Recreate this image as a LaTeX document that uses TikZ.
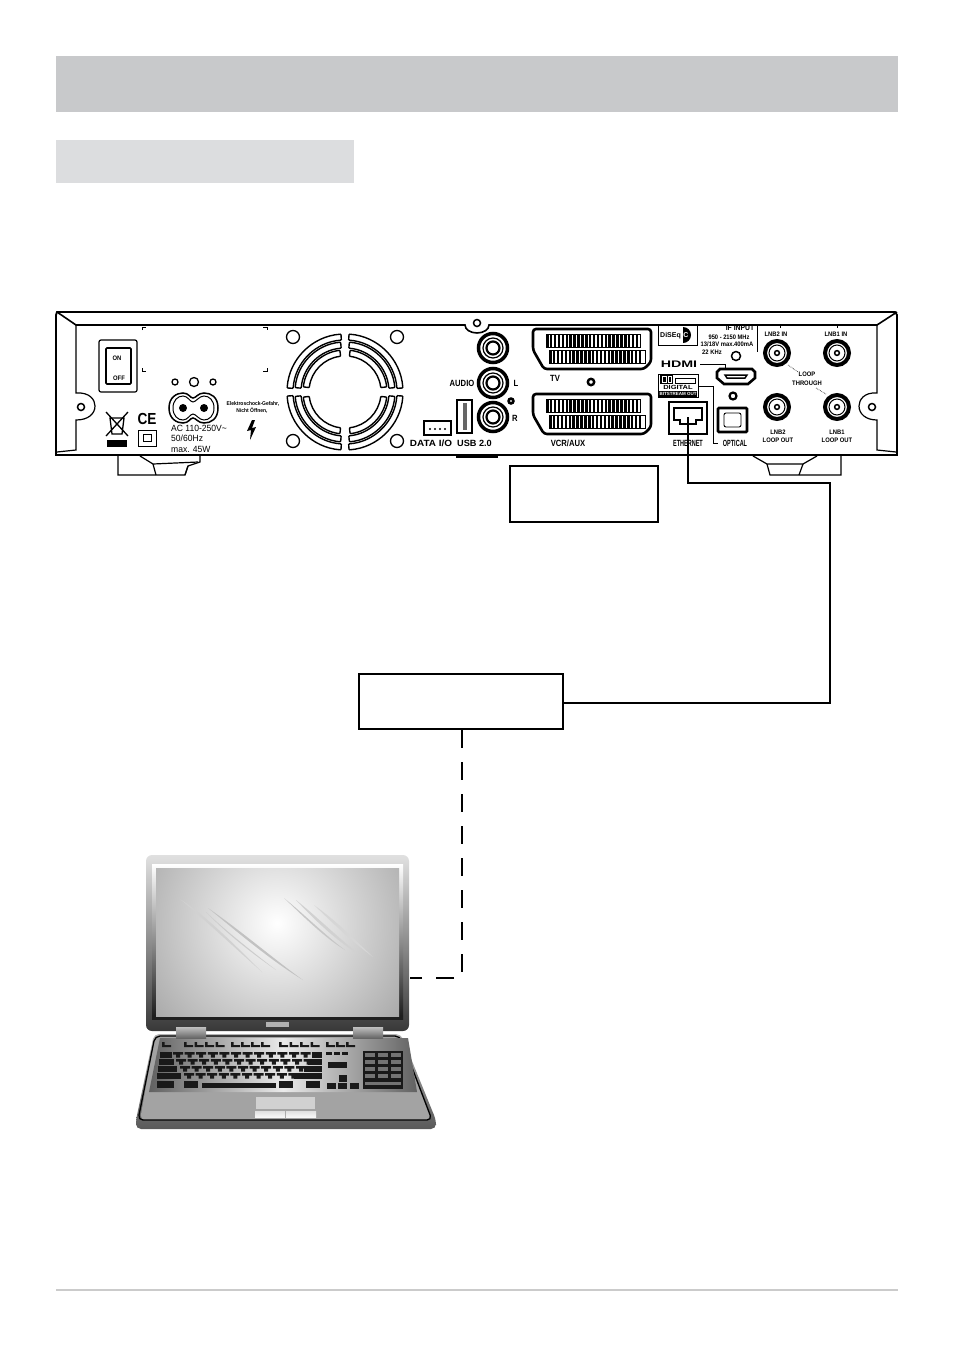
\documentclass[tikz,border=0pt]{standalone}
\usepackage{fontspec}
\setmainfont{Liberation Sans}
\usepackage{xcolor}
\definecolor{headgray}{HTML}{C8C9CB}
\definecolor{subgray}{HTML}{DCDDDF}
\definecolor{rulegray}{HTML}{CBCBCB}
\tikzset{
    panel/.style={line width=1.2pt, draw=black},
    hole/.style={line width=1.1pt, draw=black, fill=white},
    cable/.style={line width=1.5pt, draw=black},
    netlink/.style={line width=1.6pt, draw=black, dash pattern=on 18pt off 14pt},
    labelbox/.style={draw=black, line width=1.6pt, fill=white, inner sep=0pt, anchor=north west},
    tag/.style={font=\bfseries\fontsize{9}{9}\selectfont, inner sep=0pt, xscale=0.85},
    thintag/.style={font=\fontsize{9}{9}\selectfont, inner sep=0pt, xscale=0.95},
    tinytag/.style={font=\bfseries\fontsize{6.5}{6.5}\selectfont, inner sep=0pt, xscale=0.9},
    keyblack/.style={fill=black!90, draw=none}
}
\begin{document}
\begin{tikzpicture}[x=1pt, y=-1pt]
    \useasboundingbox (0,0) rectangle (954,1347);

    % header bars
    \fill[headgray] (56,56) rectangle (898,112);
    \fill[subgray] (56,140) rectangle (354,183);
    \draw[rulegray, line width=1.5pt] (56,1290) -- (898,1290);

    % receiver body
    \draw[panel, line width=1.8pt] (57,312) -- (895,312) -- (897,315) -- (897,455) -- (56,455) -- (56,315) -- cycle;
    \draw[line width=2.2pt] (56,455) -- (897,455);
    \draw[panel, line width=1.6pt] (57,312) -- (76,325) -- (465,325) arc (180:0:12 and 8) -- (877,325) -- (897,312);
    \draw[panel] (76,325) -- (76,393) .. controls (90,392) and (95,400) .. (95,406) .. controls (95,414) and (88,420) .. (76,420) -- (76,450) -- (57,452);
    \draw[panel] (877,325) -- (877,393) .. controls (864,392) and (859,400) .. (859,406) .. controls (859,414) and (866,420) .. (877,420) -- (877,450) -- (896,452);
    \foreach \sx/\sy in {81/407, 872/407, 477/323}
        \draw[line width=1.5pt, fill=white] (\sx,\sy) circle (3.5);

    % feet
    \draw[panel] (118,456) -- (118,475) -- (185,475) -- (188,466) -- (200,462) -- (200,456);
    \draw[panel] (140,456) -- (153,464) -- (198,462);
    \draw[panel] (153,464) -- (156,475);
    \draw[panel] (188,466) -- (185,475);
    \draw[panel] (753,456) -- (767,464) -- (803,464) -- (817,456);
    \draw[panel] (767,464) -- (770,475) -- (841,475) -- (841,456);
    \draw[panel] (803,464) -- (799,475);
    \draw[line width=2.4pt] (456,457) -- (498,457);

    % power switch
    \draw[panel, rounded corners=2pt] (99,340) rectangle (137,392);
    \draw[panel, line width=1.6pt, rounded corners=1pt] (106,348) rectangle (131,384);
    \node[tinytag] (lblon) at (117,358) {ON};
    \node[tinytag] (lbloff) at (119,378) {OFF};

    % label frame corners
    \draw[line width=0.7pt] (142,330) -- (142,327) -- (146,327);
    \draw[line width=0.7pt] (263,327) -- (267,327) -- (267,330);
    \draw[line width=0.7pt] (142,368) -- (142,371) -- (146,371);
    \draw[line width=0.7pt] (263,371) -- (267,371) -- (267,368);

    % disposal and CE marks
    \draw[line width=1.3pt] (110,418) -- (112,434) -- (122,434) -- (124,418) -- cycle;
    \draw[line width=1.3pt] (106,412) -- (128,436);
    \draw[line width=1.3pt] (128,412) -- (106,436);
    \fill (107,440) rectangle (127,447);
    \node[font=\bfseries\fontsize{16}{16}\selectfont, inner sep=0pt, xscale=0.85] (lblce) at (147,419) {CE};
    \draw[line width=0.9pt] (138,430) rectangle (156,446);
    \draw[line width=0.8pt] (143,434) rectangle (151,441);

    % mains socket
    \foreach \cx/\cr in {175/3, 194/4.5, 213/3}
        \draw[line width=1.3pt] (\cx,382) circle (\cr);
    \draw[line width=1.5pt] (169,408) .. controls (169,397) and (177,393) .. (183,393) .. controls (189,393) and (190,398) .. (193,398) .. controls (196,398) and (198,393) .. (204,393) .. controls (211,393) and (218,397) .. (218,408) .. controls (218,419) and (211,423) .. (204,423) .. controls (198,423) and (196,418) .. (193,418) .. controls (190,418) and (189,423) .. (183,423) .. controls (177,423) and (169,419) .. (169,408) -- cycle;
    \draw[line width=1pt] (173,408) .. controls (173,400) and (178,396) .. (183,396) .. controls (188,396) and (190,402) .. (193,402) .. controls (196,402) and (199,396) .. (204,396) .. controls (209,396) and (214,400) .. (214,408) .. controls (214,416) and (209,420) .. (204,420) .. controls (199,420) and (196,414) .. (193,414) .. controls (190,414) and (188,420) .. (183,420) .. controls (178,420) and (173,416) .. (173,408) -- cycle;
    \fill (183,408) circle (4) (204,408) circle (4);
    \node[thintag, anchor=west] (lblac) at (171,428) {AC 110-250V\textasciitilde};
    \node[thintag, anchor=west] (lblhz) at (171,438) {50/60Hz};
    \node[thintag, anchor=west] (lblmax) at (171,449) {max. 45W};

    % shock warning
    \node[tinytag, font=\bfseries\fontsize{5.5}{5.5}\selectfont] (lblshock) at (253,404) {Elektroschock-Gefahr,};
    \node[tinytag, font=\bfseries\fontsize{5.5}{5.5}\selectfont] (lblopen) at (252,411) {Nicht Öffnen,};
    \fill (252,420) -- (247,431) -- (251,430) -- (250,440) -- (256,427) -- (252,428) -- (255,420) -- cycle;

    % fan
    \foreach \fx/\fy in {293/337, 397/337, 293/441, 397/441}
        \draw[line width=1.3pt] (\fx,\fy) circle (6.5);
    \foreach \qa in {0,90,180,270}
        \foreach \ri/\ro/\gap in {36/42/7, 44/50/5, 52/58/4}
            \draw[hole, line width=1.4pt, rounded corners=0.8pt] ({345+\ri*cos(\qa+\gap)},{392+\ri*sin(\qa+\gap)})
                arc ({\qa+\gap}:{\qa+90-\gap}:\ri)
                -- ({345+\ro*cos(\qa+90-\gap)},{392+\ro*sin(\qa+90-\gap)})
                arc ({\qa+90-\gap}:{\qa+\gap}:\ro) -- cycle;

    % data port and usb
    \draw[panel] (424,421) rectangle (451,435);
    \foreach \dx in {430,435,440,445}
        \fill (\dx,429) circle (1.2);
    \node[tag, xscale=1.3] (lbldata) at (431,443) {DATA I/O};
    \draw[panel, line width=2pt] (457,400) rectangle (472,433);
    \fill[black!60] (463,403) rectangle (467,430);
    \node[tag, xscale=1.2] (lblusb) at (474.5,443) {USB 2.0};

    % audio jacks
    \foreach \jy in {348,383,417} {
        \draw[line width=3.5pt] (493,\jy) circle (14.5);
        \draw[line width=1.2pt] (493,\jy) circle (10);
        \draw[line width=2.2pt] (493,\jy) circle (6.5);
    }
    \node[tag] (lblaudio) at (462,383) {AUDIO};
    \node[tag] (lblleft) at (516,383) {L};
    \node[tag] (lblright) at (515,418) {R};
    \draw[line width=2.6pt] (511,401) circle (2.4);

    % scart sockets
    \foreach \oy in {0,65} {
        \begin{scope}[yshift=-\oy pt]
            \draw[line width=2.6pt, rounded corners=3pt] (533,329) -- (651,329) -- (651,362) -- (644,369) -- (544,369) -- (533,350) -- cycle;
            \foreach \pa in {0,...,23}
                \fill ({546+\pa*3.9},334.5) rectangle ++(2.5,12);
            \foreach \pa in {0,...,23}
                \fill ({549+\pa*3.9},350) rectangle ++(2.5,13);
            \draw[line width=0.8pt] (546,334) rectangle (640,347);
            \draw[line width=0.8pt] (549,350) rectangle (645,363);
        \end{scope}
    }
    \node[tag] (lbltv) at (555,378) {TV};
    \node[tag] (lblvcr) at (568,443) {VCR/AUX};
    \draw[line width=2.4pt] (591,382) circle (3.2);

    % rear right labels
    \draw[line width=1pt] (658,325) rectangle (697,345);
    \node[font=\bfseries\fontsize{7}{7}\selectfont, inner sep=0pt, anchor=west] (lbldiseqc) at (660,336) {DiSEq};
    \fill (683,327) arc (-90:90:8) -- cycle;
    \node[font=\bfseries\fontsize{7}{7}\selectfont, inner sep=0pt, text=white] (lblc) at (686,335) {C};
    \node[tag, font=\bfseries\fontsize{8}{8}\selectfont] (lblifin) at (740,328) {IF INPUT};
    \node[tinytag, xscale=0.98] (lblfreq) at (729,337) {950 - 2150 MHz};
    \node[tinytag] (lblvolt) at (727,344) {13/18V max.400mA};
    \node[tinytag, anchor=west] (lblkhz) at (702,352) {22 KHz};
    \draw[line width=1.5pt] (736,356) circle (4.5);
    \draw[line width=0.8pt] (757,325) -- (757,352);
    \node[font=\bfseries\fontsize{9.5}{9.5}\selectfont, inner sep=0pt, xscale=1.5] (lblhdmi) at (679,364) {HDMI};
    \draw[line width=0.8pt] (700,364) -- (725,364) -- (725,368);
    \draw[line width=2.6pt] (720,369) -- (752,369) -- (755,372) -- (755,378) -- (748,384) -- (724,384) -- (717,378) -- (717,372) -- cycle;
    \draw[line width=1.5pt] (725,375) -- (747,375) -- (745,378) -- (727,378) -- cycle;
    \draw[line width=2.2pt] (733,396) circle (3.5);

    % dolby logo
    \draw[line width=1pt] (658,374) rectangle (698,397);
    \fill (660,375) rectangle (673,384);
    \draw[white, line width=1pt] (662,376.5) rectangle (666,382.5) (668,376.5) rectangle (671,382.5);
    \draw[line width=1pt] (675,378) rectangle (695,383);
    \fill (659,391) rectangle (697,397);
    \node[font=\bfseries\fontsize{6}{6}\selectfont, inner sep=0pt, xscale=1.25] (lbldigital) at (678,387.5) {DIGITAL};
    \node[font=\bfseries\fontsize{4.5}{4.5}\selectfont, text=white, inner sep=0pt] (lblstream) at (678,394) {BITSTREAM OUT};
    \draw[line width=0.8pt] (698,386) -- (713,386) -- (713,443) -- (718,443);

    % optical and ethernet
    \draw[line width=2.6pt, rounded corners=1pt] (718,408) rectangle (747,432);
    \draw[line width=0.9pt, rounded corners=2pt] (724,413) rectangle (741,427);
    \node[tag, xscale=0.72] (lblopt) at (735,443) {OPTICAL};
    \draw[line width=1.5pt] (669,402) rectangle (707,434);
    \draw[line width=1.3pt] (674,408) -- (702,408) -- (702,420) -- (696,420) -- (696,424) -- (680,424) -- (680,420) -- (674,420) -- cycle;
    \node[tag, xscale=0.72] (lbleth) at (688,443) {ETHERNET};

    % coax connectors
    \foreach \cx/\cy in {777/353, 837/353, 777/407, 837/407} {
        \draw[line width=4pt] (\cx,\cy) circle (12);
        \draw[line width=1pt] (\cx,\cy) circle (8);
        \draw[line width=1.5pt] (\cx,\cy) circle (2.4);
    }
    \draw[line width=0.8pt] (780,325) -- (780,328) (837,325) -- (837,328);
    \node[tinytag] (lbllnbb) at (776,334) {LNB2 IN};
    \node[tinytag] (lbllnba) at (836,334) {LNB1 IN};
    \node[tinytag] (lblloop) at (807,374) {LOOP};
    \node[tinytag] (lblthr) at (807,383) {THROUGH};
    \draw[line width=0.6pt, densely dotted] (788,365) -- (798,372);
    \draw[line width=0.6pt, densely dotted] (816,388) -- (826,394);
    \node[tinytag, align=center] (lblouta) at (778,436) {LNB2\\[1.5pt]LOOP OUT};
    \node[tinytag, align=center] (lbloutb) at (837,436) {LNB1\\[1.5pt]LOOP OUT};

    % boxes and connectors
    \node[labelbox, minimum width=148.4pt, minimum height=56.4pt] (box) at (509,465) {};
    \node[labelbox, minimum width=204.4pt, minimum height=55.4pt] (router) at (358,673) {};
    \coordinate (ethport) at (688,417);
    \coordinate (nettop) at (830,483);
    \coordinate (notebook) at (410,978);
    \draw[cable] (ethport) -- (ethport |- nettop) -- (nettop) -- (nettop |- 0,703) -- ([yshift=-1.5pt]router.east);
    \draw[netlink] (router.south -| 462,0) -- (462,978) -- (notebook);

    % notebook lid
    \shade[top color=black!12, bottom color=black!78, rounded corners=6pt] (146,855) rectangle (409,1031);
    \shade[top color=white, bottom color=black!90] (152,864) rectangle (403,1019);
    \fill[black!88] (152,1015) rectangle (403,1020);
    \begin{scope}
        \clip (156,868) rectangle (399,1016);
        \shade[inner color=white, outer color=black!36] (277,923) circle (165);
        \fill[black!24] (208,908) .. controls (240,930) and (275,960) .. (303,980) .. controls (270,960) and (235,930) .. (208,908) -- cycle;
        \fill[black!20] (206,912) .. controls (225,930) and (250,950) .. (276,970) .. controls (250,952) and (225,932) .. (206,912) -- cycle;
        \fill[black!18] (180,899) .. controls (205,915) and (235,945) .. (262,972) .. controls (235,948) and (205,920) .. (180,899) -- cycle;
        \fill[black!22] (284,898) .. controls (305,915) and (325,935) .. (345,950) .. controls (325,938) and (305,918) .. (284,898) -- cycle;
        \fill[black!18] (296,900) .. controls (315,915) and (335,935) .. (360,955) .. controls (335,940) and (315,920) .. (296,900) -- cycle;
        \fill[black!16] (314,905) .. controls (335,920) and (350,935) .. (373,957) .. controls (350,940) and (335,925) .. (314,905) -- cycle;
    \end{scope}
    \fill[black!30] (266,1022) rectangle (289,1027);

    % notebook base
    \shade[top color=black!30, bottom color=black!65, rounded corners=5pt] (154,1034) -- (401,1034) -- (436,1120) -- (436,1129) -- (136,1129) -- (136,1120) -- cycle;
    \fill[black!36, rounded corners=5pt] (155,1036) -- (400,1036) -- (432,1120) -- (140,1120) -- cycle;
    \draw[line width=1.3pt, rounded corners=5pt] (155,1036) -- (400,1036) -- (432,1120) -- (138,1120) -- cycle;
    \shade[left color=black!62, right color=black!62, middle color=black!8] (160,1038) -- (408,1038) -- (417,1092) -- (149,1092) -- cycle;
    \foreach \hx in {176,353}
        \shade[top color=black!25, bottom color=black!60] (\hx,1027) rectangle ++(30,11);

    % function keys
    \foreach \kx in {162,184,194.5,205,215.5,231,241,251,261,279,289.5,300,310.5,326,336,346}
        \fill[keyblack] (\kx,1045) rectangle ++(9,2) (\kx,1042) rectangle ++(2.5,5);
    % main keys
    \foreach \rowy/\rowx/\num in {1052/173/12, 1059/176/12, 1066/180/11, 1073/184/10} {
        \foreach \kn in {1,...,\num}
            \fill[keyblack] ({\rowx+(\kn-1)*11.6},\rowy) rectangle ++(10,2.5) ({\rowx+3+(\kn-1)*11.6},\rowy) rectangle ++(4,5.5);
    }
    \foreach \rowy/\rowx/\roww in {1052/160/12, 1059/159/15, 1066/158/19, 1073/157/24}
        \fill[keyblack] (\rowx,\rowy) rectangle ++(\roww,5.5);
    \foreach \rowy/\rowx/\roww in {1052/312/10, 1059/308/14, 1066/304/18, 1073/294/28}
        \fill[keyblack] (\rowx,\rowy) rectangle ++(\roww,5.5);
    \fill[keyblack] (157,1081) rectangle ++(17,7);
    \fill[keyblack] (184,1081) rectangle ++(14,7);
    \fill[keyblack] (202,1083) rectangle (276,1088);
    \fill[keyblack] (279,1081) rectangle ++(14,7);
    \fill[keyblack] (306,1081) rectangle ++(14,7);
    % arrow and page keys
    \foreach \kx in {326,334,342}
        \fill[keyblack] (\kx,1052) rectangle ++(6,2.5);
    \fill[keyblack] (328,1062) rectangle (347,1068);
    \foreach \kx in {327,338,350}
        \fill[keyblack] (\kx,1083) rectangle ++(9,6);
    \fill[keyblack] (339,1075) rectangle ++(8,7);
    % keypad
    \fill[keyblack] (363,1051) rectangle (403,1089);
    \foreach \ky in {1053,1060,1067,1074}
        \foreach \kx in {365,378,391}
            \fill[black!55] (\kx,\ky) rectangle ++(10,3.5);
    \fill[black!55] (365,1082) rectangle (401,1085);

    % touchpad
    \fill[black!18] (256,1097) rectangle (315,1109);
    \shade[top color=black!12, bottom color=black!3] (255,1111) rectangle ++(30,6);
    \shade[top color=black!12, bottom color=black!3] (286,1111) rectangle ++(30,6);
\end{tikzpicture}
\end{document}
